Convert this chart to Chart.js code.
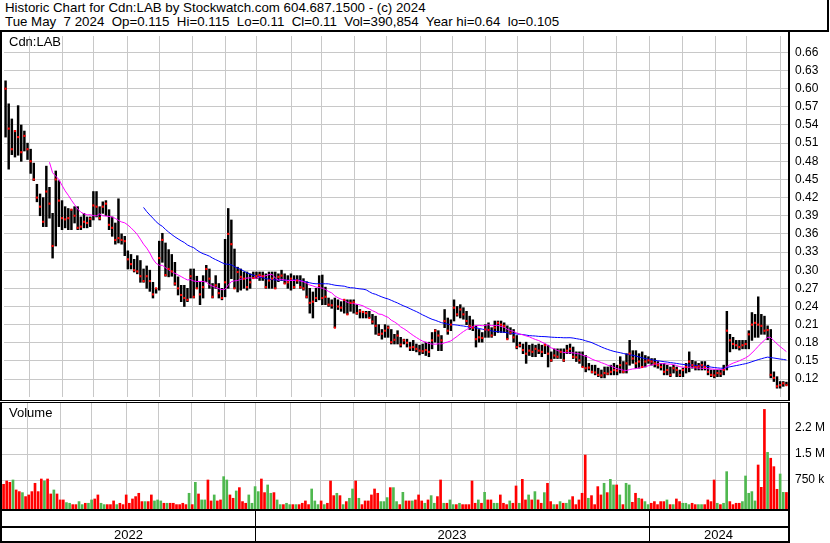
<!DOCTYPE html>
<html>
<head>
<meta charset="utf-8">
<title>Historic Chart for Cdn:LAB</title>
<script src="https://cdn.jsdelivr.net/npm/chart.js@4.4.1/dist/chart.umd.min.js"></script>
<style>
  html, body { margin: 0; padding: 0; background: #fff; }
  body { width: 830px; height: 543px; position: relative; overflow: hidden; font-family: "Liberation Sans", Arial, sans-serif; }
  #header { position: absolute; left: 0; top: 0; width: 827px; border-right: 2px solid #000; border-bottom: 2px solid #000; font-size: 13.3px; line-height: 13.5px; white-space: pre; color: #000; padding-top: 1px; box-sizing: content-box; height: 29px; }
  #header div { padding-left: 5px; }
  #priceWrap { position: absolute; left: 0; top: 32px; width: 830px; height: 369px; }
  #volWrap { position: absolute; left: 0; top: 402px; width: 830px; height: 141px; }
</style>
</head>
<body>
<div id="header"><div>Historic Chart for Cdn:LAB by Stockwatch.com 604.687.1500 - (c) 2024</div><div>Tue May  7 2024  Op=0.115  Hi=0.115  Lo=0.11  Cl=0.11  Vol=390,854  Year hi=0.64  lo=0.105</div></div>
<div id="priceWrap"><canvas id="priceChart"></canvas></div>
<div id="volWrap"><canvas id="volumeChart"></canvas></div>
<script>
// each bar = two trading days, May 2022 -> May 7 2024
const high = [
  0.613, 0.575, 0.55, 0.531, 0.572, 0.54, 0.53, 0.51, 0.50, 0.477,
  0.442, 0.426, 0.42, 0.472, 0.437, 0.394, 0.464, 0.448, 0.415, 0.405,
  0.402, 0.40, 0.405, 0.405, 0.388, 0.394, 0.388, 0.388, 0.43, 0.43,
  0.405, 0.413, 0.415, 0.40, 0.388, 0.378, 0.418, 0.36, 0.356, 0.332,
  0.326, 0.318, 0.324, 0.316, 0.302, 0.307, 0.30, 0.28, 0.27, 0.348,
  0.361, 0.345, 0.334, 0.326, 0.313, 0.289, 0.275, 0.275, 0.27, 0.302,
  0.302, 0.29, 0.28, 0.291, 0.308, 0.302, 0.278, 0.291, 0.278, 0.27,
  0.351, 0.402, 0.383, 0.335, 0.305, 0.302, 0.297, 0.297, 0.294, 0.297,
  0.297, 0.297, 0.297, 0.294, 0.297, 0.297, 0.297, 0.294, 0.30, 0.294,
  0.291, 0.294, 0.291, 0.291, 0.291, 0.286, 0.281, 0.27, 0.264, 0.27,
  0.291, 0.292, 0.272, 0.254, 0.251, 0.254, 0.251, 0.248, 0.251, 0.251,
  0.251, 0.251, 0.243, 0.235, 0.232, 0.232, 0.232, 0.227, 0.224, 0.21,
  0.202, 0.21, 0.208, 0.202, 0.194, 0.20, 0.189, 0.186, 0.186, 0.181,
  0.184, 0.178, 0.176, 0.178, 0.181, 0.181, 0.197, 0.202, 0.20, 0.192,
  0.235, 0.221, 0.218, 0.251, 0.24, 0.243, 0.238, 0.232, 0.224, 0.218,
  0.208, 0.202, 0.197, 0.21, 0.213, 0.205, 0.216, 0.216, 0.216, 0.213,
  0.208, 0.205, 0.202, 0.192, 0.181, 0.178, 0.181, 0.176, 0.178, 0.176,
  0.178, 0.176, 0.178, 0.176, 0.165, 0.17, 0.17, 0.17, 0.17, 0.176,
  0.178, 0.173, 0.165, 0.165, 0.165, 0.159, 0.146, 0.143, 0.143, 0.138,
  0.135, 0.14, 0.14, 0.143, 0.146, 0.143, 0.157, 0.149, 0.162, 0.184,
  0.167, 0.167, 0.162, 0.165, 0.159, 0.157, 0.154, 0.154, 0.149, 0.146,
  0.146, 0.143, 0.14, 0.143, 0.14, 0.135, 0.138, 0.146, 0.165, 0.151,
  0.149, 0.146, 0.149, 0.149, 0.143, 0.135, 0.135, 0.135, 0.135, 0.143,
  0.232, 0.194, 0.189, 0.184, 0.184, 0.184, 0.184, 0.20, 0.23, 0.227,
  0.256, 0.227, 0.224, 0.208, 0.202, 0.132, 0.124, 0.116, 0.116, 0.115
];
const low = [
  0.52, 0.467, 0.491, 0.487, 0.49, 0.48, 0.497, 0.483, 0.46, 0.448,
  0.413, 0.39, 0.372, 0.372, 0.386, 0.32, 0.34, 0.372, 0.367, 0.37,
  0.367, 0.367, 0.378, 0.367, 0.367, 0.37, 0.37, 0.372, 0.383, 0.388,
  0.383, 0.394, 0.39, 0.367, 0.356, 0.343, 0.345, 0.343, 0.324, 0.302,
  0.302, 0.297, 0.294, 0.28, 0.28, 0.27, 0.265, 0.254, 0.262, 0.267,
  0.313, 0.29, 0.289, 0.29, 0.275, 0.259, 0.248, 0.24, 0.248, 0.254,
  0.254, 0.27, 0.243, 0.254, 0.281, 0.27, 0.254, 0.27, 0.254, 0.251,
  0.256, 0.27, 0.286, 0.27, 0.264, 0.267, 0.27, 0.267, 0.27, 0.286,
  0.286, 0.283, 0.283, 0.27, 0.27, 0.27, 0.27, 0.281, 0.283, 0.278,
  0.27, 0.267, 0.27, 0.278, 0.27, 0.267, 0.254, 0.229, 0.221, 0.248,
  0.251, 0.243, 0.243, 0.24, 0.237, 0.205, 0.235, 0.232, 0.229, 0.227,
  0.232, 0.229, 0.227, 0.221, 0.221, 0.221, 0.221, 0.211, 0.194, 0.192,
  0.186, 0.189, 0.189, 0.178, 0.178, 0.178, 0.173, 0.178, 0.173, 0.167,
  0.167, 0.165, 0.16, 0.162, 0.159, 0.157, 0.17, 0.181, 0.167, 0.167,
  0.205, 0.194, 0.20, 0.216, 0.224, 0.221, 0.219, 0.21, 0.202, 0.20,
  0.173, 0.181, 0.181, 0.189, 0.189, 0.189, 0.192, 0.197, 0.197, 0.197,
  0.186, 0.194, 0.181, 0.17, 0.173, 0.162, 0.146, 0.159, 0.157, 0.157,
  0.162, 0.157, 0.162, 0.14, 0.149, 0.154, 0.154, 0.154, 0.149, 0.162,
  0.162, 0.154, 0.149, 0.146, 0.14, 0.132, 0.135, 0.13, 0.127, 0.124,
  0.122, 0.122, 0.127, 0.127, 0.127, 0.127, 0.13, 0.13, 0.13, 0.143,
  0.146, 0.138, 0.138, 0.14, 0.14, 0.146, 0.143, 0.14, 0.138, 0.135,
  0.127, 0.127, 0.124, 0.13, 0.124, 0.124, 0.124, 0.13, 0.132, 0.138,
  0.135, 0.135, 0.135, 0.135, 0.127, 0.124, 0.122, 0.124, 0.124, 0.127,
  0.135, 0.165, 0.17, 0.17, 0.168, 0.17, 0.17, 0.17, 0.184, 0.189,
  0.189, 0.194, 0.194, 0.185, 0.122, 0.116, 0.105, 0.105, 0.108, 0.11
];
const close = [
  0.60, 0.534, 0.50, 0.53, 0.52, 0.495, 0.522, 0.50, 0.48, 0.45,
  0.42, 0.405, 0.38, 0.43, 0.41, 0.34, 0.45, 0.415, 0.386, 0.384,
  0.386, 0.40, 0.39, 0.37, 0.372, 0.38, 0.378, 0.385, 0.407, 0.405,
  0.386, 0.405, 0.41, 0.375, 0.37, 0.35, 0.353, 0.35, 0.348, 0.318,
  0.31, 0.30, 0.298, 0.29, 0.282, 0.29, 0.282, 0.26, 0.27, 0.32,
  0.35, 0.292, 0.302, 0.298, 0.278, 0.27, 0.259, 0.254, 0.251, 0.29,
  0.256, 0.27, 0.26, 0.272, 0.302, 0.286, 0.256, 0.275, 0.262, 0.254,
  0.28, 0.36, 0.343, 0.27, 0.297, 0.289, 0.286, 0.272, 0.28, 0.287,
  0.29, 0.292, 0.29, 0.272, 0.283, 0.286, 0.27, 0.289, 0.291, 0.278,
  0.28, 0.286, 0.272, 0.283, 0.272, 0.27, 0.256, 0.246, 0.248, 0.254,
  0.275, 0.254, 0.256, 0.243, 0.242, 0.205, 0.24, 0.238, 0.251, 0.227,
  0.246, 0.247, 0.229, 0.232, 0.231, 0.229, 0.221, 0.215, 0.208, 0.194,
  0.195, 0.20, 0.205, 0.181, 0.185, 0.192, 0.177, 0.184, 0.18, 0.172,
  0.173, 0.17, 0.167, 0.166, 0.168, 0.165, 0.184, 0.20, 0.192, 0.184,
  0.216, 0.20, 0.21, 0.238, 0.227, 0.235, 0.227, 0.216, 0.208, 0.205,
  0.186, 0.189, 0.188, 0.202, 0.201, 0.192, 0.205, 0.213, 0.21, 0.208,
  0.186, 0.197, 0.189, 0.173, 0.176, 0.168, 0.162, 0.167, 0.165, 0.17,
  0.167, 0.165, 0.176, 0.162, 0.151, 0.159, 0.157, 0.165, 0.151, 0.167,
  0.17, 0.157, 0.156, 0.151, 0.14, 0.138, 0.139, 0.132, 0.131, 0.127,
  0.126, 0.13, 0.129, 0.132, 0.135, 0.134, 0.143, 0.132, 0.146, 0.162,
  0.154, 0.146, 0.149, 0.14, 0.149, 0.151, 0.149, 0.146, 0.143, 0.14,
  0.132, 0.135, 0.127, 0.138, 0.135, 0.127, 0.135, 0.14, 0.149, 0.143,
  0.14, 0.141, 0.143, 0.14, 0.132, 0.127, 0.126, 0.13, 0.129, 0.135,
  0.20, 0.184, 0.178, 0.176, 0.173, 0.176, 0.178, 0.194, 0.21, 0.213,
  0.21, 0.208, 0.20, 0.201, 0.127, 0.122, 0.108, 0.11, 0.113, 0.11
];
// daily volume, thousands of shares
const volumeK = [
  626, 722, 683, 751, 463, 415, 386, 271, 319, 415,
  655, 415, 779, 722, 779, 347, 463, 347, 175, 175,
  98, 79, 40, 40, 127, 40, 79, 79, 175, 203,
  319, 79, 40, 40, 40, 146, 40, 79, 40, 319,
  79, 203, 271, 367, 127, 127, 127, 319, 146, 175,
  146, 79, 79, 79, 79, 40, 40, 79, 40, 367,
  40, 683, 347, 175, 175, 751, 146, 319, 146, 175,
  847, 751, 319, 223, 434, 530, 127, 79, 319, 79,
  559, 415, 779, 386, 607, 367, 386, 175, 40, 40,
  79, 40, 40, 40, 40, 79, 146, 40, 491, 146,
  40, 146, 40, 79, 722, 299, 367, 299, 40, 127,
  223, 491, 722, 223, 40, 146, 146, 319, 491, 367,
  127, 127, 242, 530, 530, 127, 40, 395, 146, 146,
  146, 175, 319, 146, 79, 175, 299, 79, 271, 751,
  79, 79, 175, 40, 40, 79, 40, 40, 40, 722,
  79, 175, 79, 395, 175, 175, 79, 79, 319, 79,
  40, 146, 79, 578, 79, 770, 175, 319, 175, 415,
  175, 79, 386, 655, 127, 40, 40, 127, 79, 79,
  175, 271, 40, 175, 367, 1470, 223, 299, 40, 559,
  319, 655, 386, 770, 607, 607, 319, 40, 655, 607,
  107, 367, 223, 203, 127, 40, 79, 127, 40, 127,
  127, 175, 40, 40, 203, 127, 79, 79, 40, 79,
  40, 40, 40, 40, 175, 127, 751, 79, 40, 79,
  991, 127, 40, 79, 79, 127, 866, 367, 415, 146,
  1183, 539, 2786, 1547, 1378, 1135, 482, 923, 395, 391
];
// month gridlines, in bar positions
const monthStarts = [7.6, 18.0, 28.0, 39.0, 49.2, 59.7, 70.2, 80.1, 91.2, 100.7, 111.2, 121.4,
  132.2, 142.4, 152.9, 163.2, 173.8, 184.2, 194.8, 205.4, 216.0, 226.3, 236.4, 247.0];
const yearLabels = ['2022', '2023', '2024'];
const yearStarts = [80.1, 205.4];
const priceTicks = [0.12, 0.15, 0.18, 0.21, 0.24, 0.27, 0.30, 0.33, 0.36, 0.39, 0.42, 0.45, 0.48, 0.51, 0.54, 0.57, 0.60, 0.63, 0.66];
const volumeTicks = [750000, 1500000, 2250000];

const FONT = '"Liberation Sans", Arial, sans-serif';
const GRID = '#c8c8c8';
const VOL_MIN = -86500;
const VOL_MAX = 3000000;

Chart.defaults.font.family = FONT;
Chart.defaults.color = '#000';

function movingAverage(values, period) {
  return values.map((v, i) => {
    if (i < period - 1) return null;
    let sum = 0;
    for (let k = i - period + 1; k <= i; k++) sum += values[k];
    return sum / period;
  });
}

const idx = close.map((_, i) => i);
const ma30 = movingAverage(close, 15);  // 15 bars = 30 days
const ma90 = movingAverage(close, 45);
const volColors = close.map((c, i) => {
  if (i === 0 || c < close[i - 1]) return '#ff0000';
  if (c > close[i - 1]) return '#4fb84f';
  return '#a8a8a8';
});

function xScale() {
  return {
    type: 'linear', min: -0.5, max: close.length - 0.5, offset: false,
    grid: { color: GRID, drawTicks: false, offset: false },
    border: { display: false },
    ticks: { display: false },
    afterBuildTicks: s => { s.ticks = monthStarts.map(v => ({ value: v })); },
    afterFit: s => { s.height = 0; s.paddingLeft = 0; s.paddingRight = 0; }
  };
}

function yFit(s) { s.width = 42; s.paddingTop = 0; s.paddingBottom = 0; }

// price panel frame + label
const priceFrame = {
  id: 'priceFrame',
  afterDraw(chart) {
    const ctx = chart.ctx;
    const h = chart.height;
    ctx.save();
    ctx.fillStyle = '#000';
    ctx.fillRect(0, 0, 2, h);
    ctx.fillRect(788, 0, 2, h);
    ctx.fillRect(0, h - 1, 790, 1);
    ctx.font = '13px ' + FONT;
    ctx.textBaseline = 'middle';
    ctx.fillText('Cdn:LAB', 9, 10);
    ctx.restore();
  }
};

// volume panel frame, year band, label
const volumeFrame = {
  id: 'volumeFrame',
  afterDraw(chart) {
    const ctx = chart.ctx;
    const h = chart.height;
    const x = chart.scales.x;
    const bottom = chart.chartArea.bottom;
    ctx.save();
    ctx.fillStyle = '#000';
    ctx.fillRect(0, 0, 790, 1);
    ctx.fillRect(0, 0, 2, h);
    ctx.fillRect(788, 0, 2, h);
    ctx.fillRect(0, bottom, 790, 2);
    ctx.fillRect(0, bottom + 17, 790, 2);
    ctx.fillRect(0, h - 2, 790, 2);
    const edges = [2].concat(yearStarts.map(v => Math.round(x.getPixelForValue(v))), [788]);
    for (let k = 1; k < edges.length - 1; k++) ctx.fillRect(edges[k], bottom, 1, h - bottom);
    ctx.font = '13px ' + FONT;
    ctx.textAlign = 'center';
    ctx.textBaseline = 'middle';
    yearLabels.forEach((y, k) => ctx.fillText(y, (edges[k] + edges[k + 1]) / 2, bottom + 26));
    ctx.textAlign = 'left';
    ctx.fillText('Volume', 9, 11);
    ctx.restore();
  }
};

new Chart(document.getElementById('priceChart'), {
  type: 'bar',
  data: {
    datasets: [
      {
        type: 'line', label: 'MA 30', data: idx.map(i => ({ x: i, y: ma30[i] })),
        borderColor: '#ff00ff', borderWidth: 1, pointRadius: 0, tension: 0, order: 2
      },
      {
        type: 'line', label: 'MA 90', data: idx.map(i => ({ x: i, y: ma90[i] })),
        borderColor: '#0000ff', borderWidth: 1, pointRadius: 0, tension: 0, order: 3
      },
      {
        type: 'scatter', label: 'Close', data: idx.map(i => ({ x: i, y: close[i] })),
        pointStyle: 'rect', pointRadius: 1.5, backgroundColor: '#ff0000', borderWidth: 0, order: 1
      },
      {
        type: 'bar', label: 'Range', data: idx.map(i => ({ x: i, y: [low[i], high[i]] })),
        backgroundColor: '#000', barThickness: 1.8, order: 4
      }
    ]
  },
  options: {
    responsive: true,
    maintainAspectRatio: false,
    devicePixelRatio: 1,
    animation: false,
    layout: { padding: { left: 2, top: 0, right: 0, bottom: 0 } },
    plugins: { legend: { display: false }, tooltip: { enabled: false } },
    scales: {
      x: xScale(),
      y: {
        position: 'right', min: 0.0904, max: 0.6871,
        grid: { color: GRID, drawTicks: false },
        border: { display: false },
        ticks: { padding: 7, font: { size: 12 }, callback: v => v.toFixed(2) },
        afterBuildTicks: s => { s.ticks = priceTicks.map(v => ({ value: v })); },
        afterFit: yFit
      }
    }
  },
  plugins: [priceFrame]
});

new Chart(document.getElementById('volumeChart'), {
  type: 'bar',
  data: {
    datasets: [{
      label: 'Volume', data: idx.map(i => ({ x: i, y: volumeK[i] * 1000 })),
      backgroundColor: volColors, barThickness: 2, base: VOL_MIN
    }]
  },
  options: {
    responsive: true,
    maintainAspectRatio: false,
    devicePixelRatio: 1,
    animation: false,
    layout: { padding: { left: 2, top: 0, right: 0, bottom: 34 } },
    plugins: { legend: { display: false }, tooltip: { enabled: false } },
    scales: {
      x: xScale(),
      y: {
        position: 'right', min: VOL_MIN, max: VOL_MAX,
        grid: { color: GRID, drawTicks: false },
        border: { display: false },
        ticks: {
          padding: 7, font: { size: 12 },
          callback: v => v >= 1e6 ? (Math.floor(v / 1e5) / 10) + ' M' : Math.round(v / 1000) + ' k'
        },
        afterBuildTicks: s => { s.ticks = volumeTicks.map(v => ({ value: v })); },
        afterFit: yFit
      }
    }
  },
  plugins: [volumeFrame]
});
</script>
</body>
</html>
